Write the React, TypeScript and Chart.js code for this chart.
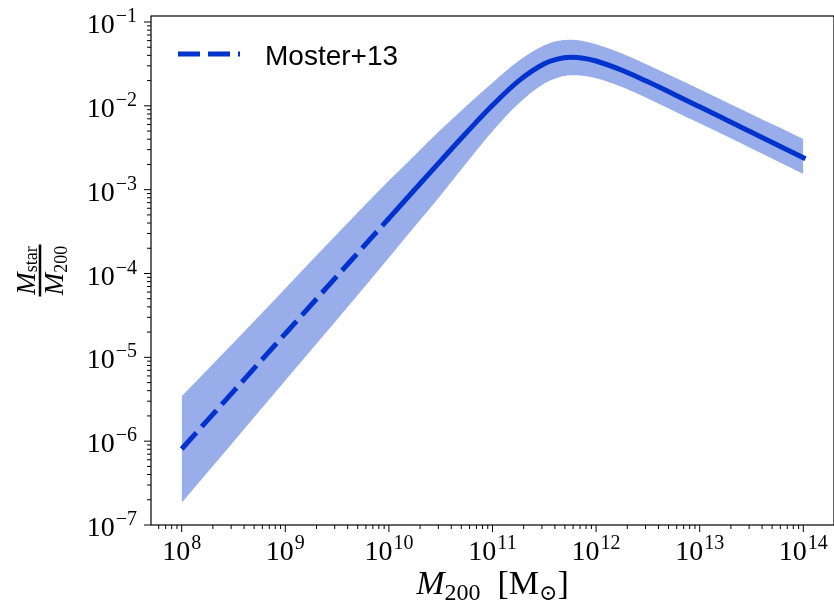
import React, { useEffect, useRef } from "react";
import { Chart, registerables } from "chart.js";

Chart.register(...registerables);

// Halo mass M200 [Msun]
const haloMass = [
  1e8, 3.162e8, 1e9, 3.162e9, 1e10, 1.778e10, 3.162e10, 5.623e10, 1e11,
  1.778e11, 3.162e11, 4.217e11, 5.623e11, 7.499e11, 1e12, 1.778e12, 3.162e12,
  5.623e12, 1e13, 1.778e13, 3.162e13, 5.623e13, 1e14,
];
// Mstar / M200 median relation
const ratioMedian = [
  8.06e-7, 3.93e-6, 1.916e-5, 9.34e-5, 4.55e-4, 1.004e-3, 2.205e-3, 4.8e-3,
  1.014e-2, 1.973e-2, 3.174e-2, 3.609e-2, 3.788e-2, 3.704e-2, 3.428e-2,
  2.656e-2, 1.933e-2, 1.377e-2, 9.74e-3, 6.87e-3, 4.84e-3, 3.41e-3, 2.405e-3,
];
// Upper edge of the shaded band
const ratioUpper = [
  3.44e-6, 1.494e-5, 6.64e-5, 2.953e-4, 1.282e-3, 2.582e-3, 5.17e-3, 1.003e-2,
  1.888e-2, 3.428e-2, 5.267e-2, 5.921e-2, 6.143e-2, 5.938e-2, 5.433e-2,
  4.209e-2, 3.063e-2, 2.208e-2, 1.58e-2, 1.122e-2, 7.96e-3, 5.66e-3, 4.01e-3,
];
// Lower edge of the shaded band
const ratioLower = [
  1.845e-7, 9.87e-7, 5.28e-6, 2.82e-5, 1.542e-4, 3.65e-4, 8.58e-4, 2.096e-3,
  4.966e-3, 1.059e-2, 1.848e-2, 2.15e-2, 2.309e-2, 2.284e-2, 2.138e-2,
  1.676e-2, 1.22e-2, 8.69e-3, 6.19e-3, 4.385e-3, 3.096e-3, 2.187e-3, 1.542e-3,
];
const dashedUpTo = 1e10; // dashed (extrapolated) below this mass
const xTickExponents = [8, 9, 10, 11, 12, 13, 14];
const yTickExponents = [-7, -6, -5, -4, -3, -2, -1];
const legendLabel = "Moster+13";

const LINE = "rgb(0,51,204)";
const BAND = "rgba(0,51,204,0.4)";
const SERIF = "'Liberation Serif', 'DejaVu Serif', serif";
const SANS = "'Liberation Sans', Arial, sans-serif";

function fmtExp(e: number) {
  return e < 0 ? "\u2212" + Math.abs(e) : String(e);
}

function drawPow(ctx: CanvasRenderingContext2D, exp: number, x: number, baseline: number, align: "center" | "right") {
  const base = "10";
  const e = fmtExp(exp);
  ctx.font = `28px ${SERIF}`;
  const wb = ctx.measureText(base).width;
  ctx.font = `20px ${SERIF}`;
  const we = ctx.measureText(e).width;
  const total = wb + 1 + we;
  const x0 = align === "center" ? x - total / 2 : x - total;
  ctx.textAlign = "left";
  ctx.textBaseline = "alphabetic";
  ctx.font = `28px ${SERIF}`;
  ctx.fillText(base, x0, baseline);
  ctx.font = `20px ${SERIF}`;
  ctx.fillText(e, x0 + wb + 1, baseline - 11);
}

const decorPlugin = {
  id: "decor",
  afterDraw(chart: any) {
    const ctx: CanvasRenderingContext2D = chart.ctx;
    const { left, right, top, bottom } = chart.chartArea;
    const xs = chart.scales.x;
    const ys = chart.scales.y;
    ctx.save();
    ctx.strokeStyle = "#000";
    ctx.fillStyle = "#000";
    ctx.lineWidth = 1.2;
    ctx.setLineDash([]);
    // spines
    ctx.strokeRect(left, top, right - left, bottom - top);

    // x ticks
    ctx.lineWidth = 1;
    for (let d = 7; d <= 14; d++) {
      for (let k = 1; k <= 9; k++) {
        const v = k * Math.pow(10, d);
        if (v < xs.min || v > xs.max) continue;
        const px = xs.getPixelForValue(v);
        const len = k === 1 ? 7 : 4;
        ctx.beginPath();
        ctx.moveTo(px, bottom);
        ctx.lineTo(px, bottom + len);
        ctx.stroke();
      }
    }
    // y ticks
    for (let d = -8; d <= -1; d++) {
      for (let k = 1; k <= 9; k++) {
        const v = k * Math.pow(10, d);
        if (v < ys.min * 0.999 || v > ys.max) continue;
        const py = ys.getPixelForValue(v);
        const len = k === 1 ? 7 : 4;
        ctx.beginPath();
        ctx.moveTo(left, py);
        ctx.lineTo(left - len, py);
        ctx.stroke();
      }
    }
    // tick labels
    xTickExponents.forEach((e) => {
      const px = xs.getPixelForValue(Math.pow(10, e));
      drawPow(ctx, e, px, 560, "center");
    });
    yTickExponents.forEach((e) => {
      const py = ys.getPixelForValue(Math.pow(10, e));
      drawPow(ctx, e, 137, py + 11, "right");
    });

    // x title: M_200 [M_sun]
    {
      const parts: [string, string, number][] = [
        ["M", `italic 34px ${SERIF}`, 0],
        ["200", `24px ${SERIF}`, 6],
        ["  ", `34px ${SERIF}`, 0],
        ["[M", `34px ${SERIF}`, 0],
        ["\u2299", `22px 'DejaVu Serif', ${SERIF}`, 6],
        ["]", `34px ${SERIF}`, 0],
      ];
      let w = 0;
      const widths = parts.map(([t, f]) => {
        ctx.font = f;
        const m = ctx.measureText(t).width;
        w += m;
        return m;
      });
      let x = (left + right) / 2 - w / 2;
      ctx.textAlign = "left";
      ctx.textBaseline = "alphabetic";
      parts.forEach(([t, f, dy], i) => {
        ctx.font = f;
        ctx.fillText(t, x, 594 + dy);
        x += widths[i];
      });
    }

    // y title: fraction M_star / M_200 (rotated)
    {
      ctx.save();
      ctx.translate(40, (top + bottom) / 2);
      ctx.rotate(-Math.PI / 2);
      ctx.textAlign = "left";
      ctx.textBaseline = "alphabetic";
      const drawSub = (main: string, sub: string, base: number, subBase: number) => {
        ctx.font = `italic 27px ${SERIF}`;
        const w1 = ctx.measureText(main).width;
        ctx.font = `18px ${SERIF}`;
        const w2 = ctx.measureText(sub).width;
        const x0 = -(w1 + w2) / 2;
        ctx.font = `italic 27px ${SERIF}`;
        ctx.fillText(main, x0, base);
        ctx.font = `18px ${SERIF}`;
        ctx.fillText(sub, x0 + w1, subBase);
      };
      drawSub("M", "star", -5, -3);
      drawSub("M", "200", 23, 27);
      ctx.fillRect(-26, -1.25, 52, 2.5);
      ctx.restore();
    }

    // legend
    ctx.strokeStyle = LINE;
    ctx.lineWidth = 5;
    ctx.lineCap = "butt";
    ctx.setLineDash([22, 8]);
    ctx.beginPath();
    ctx.moveTo(178, 54);
    ctx.lineTo(240, 54);
    ctx.stroke();
    ctx.setLineDash([]);
    ctx.fillStyle = "#000";
    ctx.font = `28px ${SANS}`;
    ctx.textAlign = "left";
    ctx.textBaseline = "alphabetic";
    ctx.fillText(legendLabel, 265, 65);
    ctx.restore();
  },
};

export default function App() {
  const ref = useRef<HTMLCanvasElement | null>(null);
  useEffect(() => {
    if (!ref.current) return;
    const pts = (ys: number[]) => haloMass.map((x, i) => ({ x, y: ys[i] }));
    const median = pts(ratioMedian);
    const chart = new Chart(ref.current, {
      type: "line",
      data: {
        datasets: [
          {
            label: legendLabel,
            data: median.filter((p) => p.x <= dashedUpTo),
            borderColor: LINE,
            borderWidth: 5,
            borderDash: [22, 8],
            borderCapStyle: "butt",
            pointRadius: 0,
            fill: false,
            order: 0,
            cubicInterpolationMode: "monotone",
          },
          {
            label: "solid",
            data: median.filter((p) => p.x >= dashedUpTo),
            borderColor: LINE,
            borderWidth: 5,
            borderCapStyle: "square",
            borderJoinStyle: "round",
            pointRadius: 0,
            fill: false,
            order: 0,
            cubicInterpolationMode: "monotone",
          },
          {
            label: "upper",
            data: pts(ratioUpper),
            borderWidth: 0,
            borderColor: "rgba(0,0,0,0)",
            backgroundColor: BAND,
            pointRadius: 0,
            fill: "+1",
            order: 1,
            cubicInterpolationMode: "monotone",
          },
          {
            label: "lower",
            data: pts(ratioLower),
            borderWidth: 0,
            borderColor: "rgba(0,0,0,0)",
            pointRadius: 0,
            fill: false,
            order: 1,
            cubicInterpolationMode: "monotone",
          },
        ],
      },
      options: {
        animation: false,
        responsive: false,
        devicePixelRatio: 1,
        layout: { padding: { left: 151, right: 0, top: 16, bottom: 82 } },
        plugins: { legend: { display: false }, tooltip: { enabled: false } },
        scales: {
          x: {
            type: "logarithmic",
            display: false,
            min: Math.pow(10, 7.7037),
            max: Math.pow(10, 14.2963),
          },
          y: {
            type: "logarithmic",
            display: false,
            min: 1e-7,
            max: Math.pow(10, -0.9284),
          },
        },
      },
      plugins: [decorPlugin],
    } as any);
    return () => chart.destroy();
  }, []);
  return (
    <div style={{ position: "absolute", left: 0, top: 0, width: 834, height: 607, background: "#fff" }}>
      <canvas ref={ref} width={834} height={607} />
    </div>
  );
}
